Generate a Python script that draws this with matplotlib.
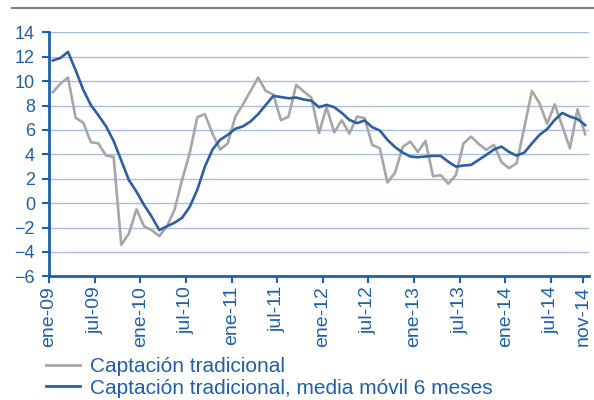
import numpy as np
import matplotlib
matplotlib.use('Agg')
import matplotlib.pyplot as plt
from matplotlib.lines import Line2D

plt.rcParams['font.family'] = ['Liberation Sans', 'DejaVu Sans']

# monthly series ene-09 .. nov-14
tradicional = [9.1, 9.8, 10.3, 7.0, 6.6, 5.0, 4.9, 3.9, 3.8, -3.4, -2.5, -0.5,
               -1.9, -2.2, -2.7, -1.9, -0.55, 1.9, 4.1, 7.05, 7.3, 5.7, 4.4, 4.9,
               7.1, 8.1, 9.2, 10.3, 9.2, 8.9, 6.8, 7.1, 9.7, 9.15, 8.66, 5.74,
               7.87, 5.8, 6.8, 5.7, 7.1, 6.97, 4.78, 4.5, 1.7, 2.5, 4.6, 5.05,
               4.2, 5.1, 2.2, 2.3, 1.6, 2.3, 4.9, 5.46, 4.86, 4.37, 4.78, 3.36,
               2.87, 3.28, 6.2, 9.2, 8.2, 6.5, 8.1, 6.3, 4.5, 7.7, 5.65]
media_movil = [11.7, 11.9, 12.4, 10.9, 9.3, 8.05, 7.2, 6.3, 5.1, 3.5, 1.9, 0.95,
               -0.15, -1.1, -2.2, -1.9, -1.6, -1.2, -0.3, 1.1, 3.0, 4.4, 5.2, 5.6,
               6.1, 6.3, 6.7, 7.3, 8.05, 8.8, 8.7, 8.6, 8.66, 8.5, 8.4, 7.87,
               8.06, 7.87, 7.4, 6.83, 6.56, 6.78, 6.23, 5.96, 5.2, 4.6, 4.15, 3.83,
               3.77, 3.83, 3.88, 3.88, 3.4, 3.0, 3.09, 3.14, 3.55, 3.96, 4.4, 4.64,
               4.2, 3.9, 4.15, 4.9, 5.6, 6.07, 6.83, 7.4, 7.1, 6.9, 6.4]
tick_lab = ['ene-09', 'jul-09', 'ene-10', 'jul-10', 'ene-11', 'jul-11', 'ene-12',
            'jul-12', 'ene-13', 'jul-13', 'ene-14', 'jul-14', 'nov-14']

azul = '#2E5FA3'
texto = '#1F60AA'
gris = '#A6A6A6'

fig = plt.figure(figsize=(5.94, 4.0), dpi=100)
ax = fig.add_axes([0.0825, 0.309, 0.909, 0.61])

x = np.arange(len(tradicional))
ax.plot(x, tradicional, color=gris, lw=1.9)
ax.plot(x, media_movil, color=azul, lw=1.9)

ax.set_xlim(-0.5, len(tradicional) - 0.5)
ax.set_ylim(-6, 14)
ax.set_yticks(range(-6, 15, 2))
# excel category axis: marks sit on the month boundaries
pos = [i * 6 - 0.5 for i in range(12)] + [69.7]
ax.set_xticks(pos)
ax.set_xticklabels(tick_lab, rotation=90)
ax.grid(axis='y', color='#A9BDE3', lw=1)
ax.set_axisbelow(True)

for s in ['top', 'right']:
    ax.spines[s].set_visible(False)
for s in ['left', 'bottom']:
    ax.spines[s].set_color(texto)
    ax.spines[s].set_linewidth(2)
ax.tick_params(colors=texto, width=1.5)
ax.tick_params(axis='x', labelsize=14, length=5, pad=2)
ax.tick_params(axis='y', labelsize=13, length=5, pad=5)

# title rule (cropped)
fig.add_artist(Line2D([0.02, 1.0], [1 - 7.5 / 400, 1 - 7.5 / 400],
                      color='#808080', lw=1.5))

handles = [Line2D([], [], color=gris, lw=2), Line2D([], [], color=azul, lw=2)]
fig.legend(handles, ['Captación tradicional',
                     'Captación tradicional, media móvil 6 meses'],
           loc='upper left', bbox_to_anchor=(0.078, 1 - 357 / 400), frameon=False,
           fontsize=15, labelcolor=texto, handlelength=1.6, handletextpad=0.5,
           labelspacing=0.12, borderaxespad=0, borderpad=0)

fig.savefig('out.png', dpi=100)
